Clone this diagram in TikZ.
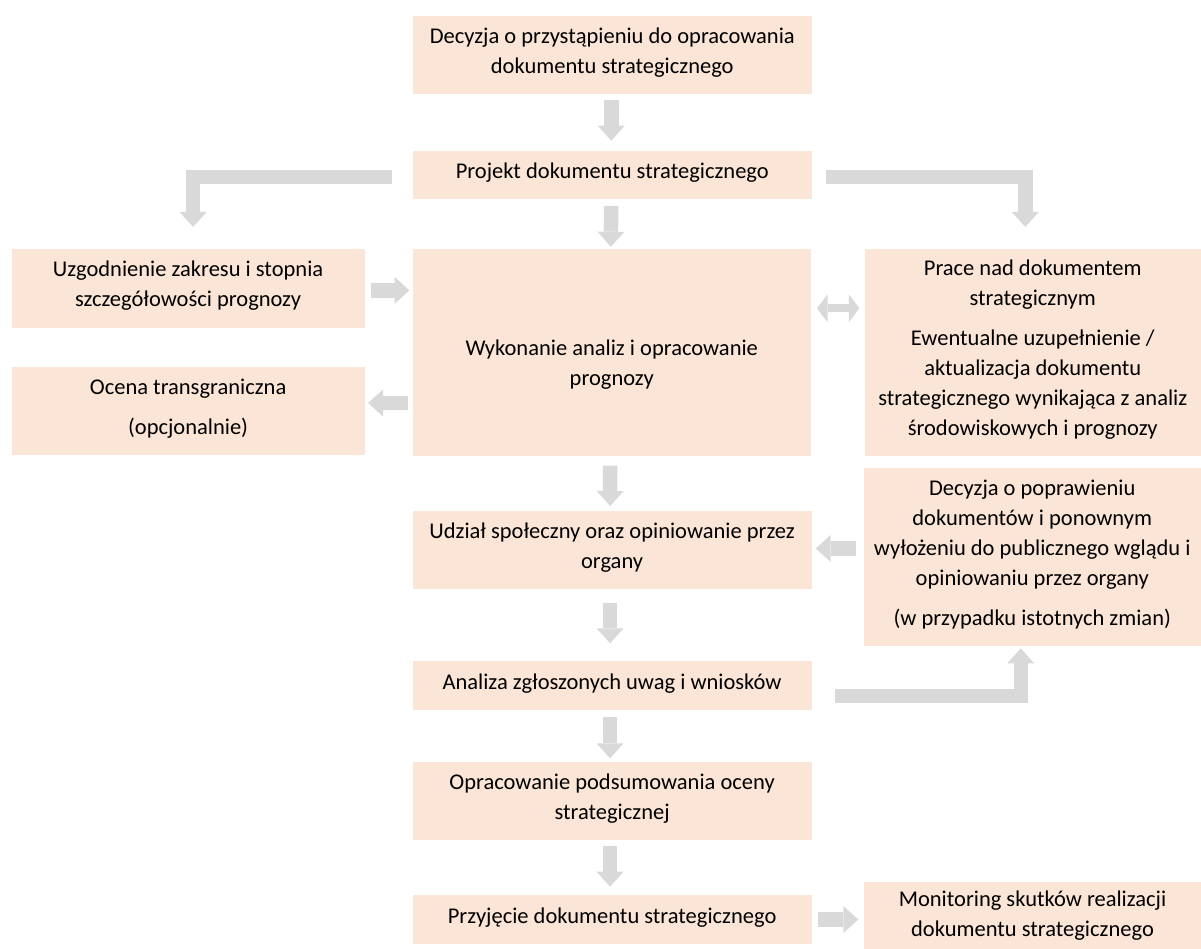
\documentclass[tikz,border=0pt]{standalone}
\usepackage{fontspec}
\setmainfont{Carlito}
\usetikzlibrary{arrows.meta,calc}
\definecolor{boxfill}{HTML}{FBE5D6}
\definecolor{arrowgray}{HTML}{D9D9D9}
\newcommand{\tp}{\rule{0pt}{21pt}}
\newcommand{\bt}{\rule[-14pt]{0pt}{0pt}}
\tikzset{
  stepbox/.style={fill=boxfill, draw=none, inner sep=0pt, outer sep=0pt, align=center,
    font=\fontsize{22.5}{30}\selectfont},
  flow/.style={draw=arrowgray, line width=14.5pt, line join=miter,
    -{Triangle[width=27pt,length=15pt,line width=0pt]}},
  flowboth/.style={draw=arrowgray, line width=7.5pt,
    {Triangle[width=28pt,length=10.5pt,line width=0pt]}-{Triangle[width=28pt,length=10.5pt,line width=0pt]}},
}
\begin{document}
\begin{tikzpicture}[x=1pt,y=-1pt]
\useasboundingbox (0,0) rectangle (1201,949);
% boxes
\node[stepbox, minimum width=399.5pt, minimum height=78.5pt] (B1) at (612.25,55.25)
  {\tp Decyzja o przystąpieniu do opracowania\\dokumentu strategicznego\bt};
\node[stepbox, minimum width=399.5pt, minimum height=48.5pt] (B2) at (612.25,175.25)
  {\tp Projekt dokumentu strategicznego\bt};
\node[stepbox, minimum width=353.2pt, minimum height=78.7pt] (L1) at (188.1,288.35)
  {\tp Uzgodnienie zakresu i stopnia\\szczegółowości prognozy\bt};
\node[stepbox, minimum width=353.2pt, minimum height=88.6pt] (L2) at (188.1,411)
  {\tp Ocena transgraniczna\\[10pt](opcjonalnie)\bt};
\node[stepbox, minimum width=398.5pt, minimum height=206.5pt] (C) at (611.75,352.25)
  {\rule{0pt}{46pt}Wykonanie analiz i opracowanie\\prognozy\strut};
\node[stepbox, minimum width=336.5pt, minimum height=206.5pt] (R1) at (1032.75,352.25)
  {\tp Prace nad dokumentem\\strategicznym\\[10pt]Ewentualne uzupełnienie /\\aktualizacja dokumentu\\strategicznego wynikająca z analiz\\środowiskowych i prognozy\bt};
\node[stepbox, minimum width=399.2pt, minimum height=78pt] (B3) at (612.1,550)
  {\tp Udział społeczny oraz opiniowanie przez\\organy\bt};
\node[stepbox, minimum width=337.5pt, minimum height=177.2pt] (R2) at (1032.25,556.9)
  {\tp Decyzja o poprawieniu\\dokumentów i ponownym\\wyłożeniu do publicznego wglądu i\\opiniowaniu przez organy\\[10pt](w przypadku istotnych zmian)\bt};
\node[stepbox, minimum width=399.2pt, minimum height=49pt] (B4) at (612.1,685.5)
  {\tp Analiza zgłoszonych uwag i wniosków\bt};
\node[stepbox, minimum width=399.2pt, minimum height=78.3pt] (B5) at (612.1,800.85)
  {\tp Opracowanie podsumowania oceny\\strategicznej\bt};
\node[stepbox, minimum width=399.2pt, minimum height=49pt] (B6) at (612.1,919.5)
  {\tp Przyjęcie dokumentu strategicznego\bt};
\node[stepbox, minimum width=337pt, minimum height=67.5pt] (R3) at (1032.5,915.25)
  {\tp Monitoring skutków realizacji\\dokumentu strategicznego\strut};
% vertical arrows
\draw[flow, shorten <=5.5pt, shorten >=10.3pt] ($(B1.south)+(-1,0)$) -- ($(B2.north)+(-1,0)$);
\draw[flow, shorten <=6.5pt, shorten >=2.3pt] ($(B2.south)+(-1,0)$) -- ($(C.north)+(-1,0)$);
\draw[flow, shorten <=10.2pt, shorten >=5pt] ($(C.south)+(-1.5,0)$) -- ($(B3.north)+(-2,0)$);
\draw[flow, shorten <=13.7pt, shorten >=17.7pt] ($(B3.south)+(-2,0)$) -- ($(B4.north)+(-2,0)$);
\draw[flow, shorten <=6.7pt, shorten >=3.4pt] ($(B4.south)+(-2,0)$) -- ($(B5.north)+(-2,0)$);
\draw[flow, shorten <=6pt, shorten >=8.3pt] ($(B5.south)+(-2,0)$) -- ($(B6.north)+(-2,0)$);
% horizontal arrows
\draw[flow, shorten <=5.8pt, shorten >=3pt] ($(L1.east)+(0,2)$) -- ($(L1.east -| C.west)+(0,2)$);
\draw[flow, shorten <=4.5pt, shorten >=3.3pt] ($(C.west |- L2.east)+(0,-8)$) -- ($(L2.east)+(0,-8)$);
\draw[flowboth, shorten <=6pt, shorten >=5.2pt] ($(C.east)+(0,-44)$) -- ($(R1.west)+(0,-44)$);
\draw[flow, shorten <=7.8pt, shorten >=4pt] ($(R2.west |- B3.east)+(0,-1.5)$) -- ($(B3.east)+(0,-1.5)$);
\draw[flow, shorten <=6pt, shorten >=5.7pt] (B6.east) -- (B6.east -| R3.west);
% bent arrows
\draw[flow, shorten <=21pt, shorten >=22pt] ($(B2.west)+(0,1.75)$) -| ($(L1.north)+(5,0)$);
\draw[flow, shorten <=13.8pt, shorten >=22pt] ($(B2.east)+(0,1.75)$) -| ($(R1.north)+(-7.5,0)$);
\draw[flow, shorten <=23.3pt, shorten >=2.8pt] ($(B4.east)+(0,10.5)$) -| ($(R2.south)+(-11.5,0)$);
\end{tikzpicture}
\end{document}
